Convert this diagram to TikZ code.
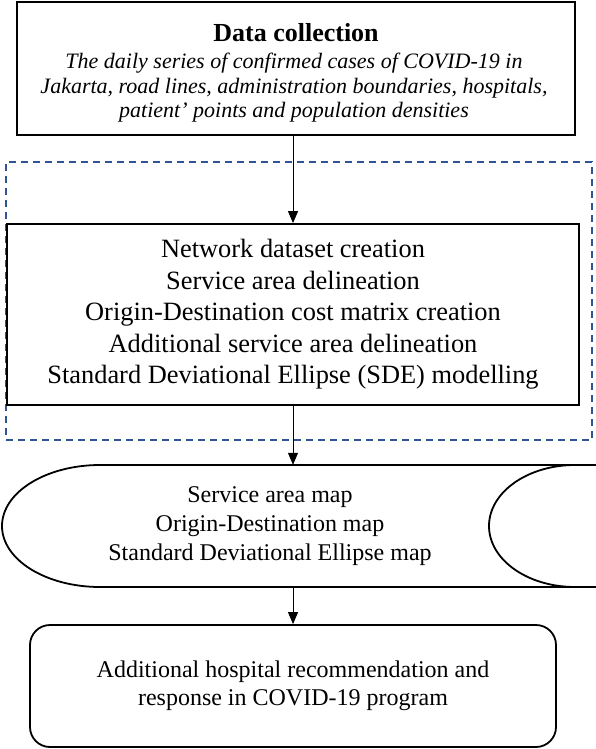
\documentclass[tikz,border=0pt]{standalone}
\usepackage{fontspec}
\setmainfont{Liberation Serif}
\usetikzlibrary{arrows.meta}
\definecolor{dashblue}{RGB}{47,84,150}
\begin{document}
\begin{tikzpicture}[x=1pt,y=-1pt,
  boxst/.style={draw, line width=1.8pt, inner sep=0pt, align=center},
  conn/.style={-{Triangle[length=12pt,width=10pt]}, line width=1pt},
  txt/.style={inner sep=0pt, align=center}]
\useasboundingbox (0,0) rectangle (596,749);
% dashed group frame
\node[draw=dashblue, line width=1.6pt, dash pattern=on 7pt off 5pt, inner sep=0pt,
      minimum width=586pt, minimum height=278pt] (group) at (299,301) {};
% top box
\node[boxst, minimum width=558pt, minimum height=133pt] (collect) at (296,68.5) {};
\node[txt, font=\fontsize{26}{30}\selectfont\bfseries] (title) at (296,33) {Data collection};
\node[txt, font=\fontsize{22}{24.5}\selectfont\itshape] (desc) at (294,88)
  {The daily series of confirmed cases of COVID-19 in\\
   Jakarta, road lines, administration boundaries, hospitals,\\
   patient’ points and population densities};
% process box
\node[boxst, minimum width=572pt, minimum height=181pt, font=\fontsize{26.4}{31.5}\selectfont]
  (proc) at (293,314.5)
  {Network dataset creation\\
   Service area delineation\\
   Origin-Destination cost matrix creation\\
   Additional service area delineation\\
   Standard Deviational Ellipse (SDE) modelling};
% stored data shape
\node[inner sep=0pt, minimum width=580pt, minimum height=122pt] (data) at (293,526) {};
\draw[line width=1.8pt] (596,465) -- (100,465)
  .. controls (45.9,465) and (2,492.3) .. (2,526)
  .. controls (2,559.7) and (45.9,587) .. (100,587) -- (596,587);
\draw[line width=1.8pt] (575,465)
  .. controls (527.5,465) and (489,492.3) .. (489,526)
  .. controls (489,559.7) and (527.5,587) .. (575,587);
\node[txt, font=\fontsize{24}{29}\selectfont] (datatext) at (270,526)
  {Service area map\\
   Origin-Destination map\\
   Standard Deviational Ellipse map};
% final box
\node[boxst, rounded corners=20pt, minimum width=526pt, minimum height=122pt,
      font=\fontsize{24}{28}\selectfont] (final) at (293,686)
  {Additional hospital recommendation and\\
   response in COVID-19 program};
% connectors
\draw[conn] (collect.south -| proc.north) -- (proc.north);
\draw[conn] (proc.south) -- (data.north);
\draw[conn] (data.south) -- (final.north);
\end{tikzpicture}
\end{document}
